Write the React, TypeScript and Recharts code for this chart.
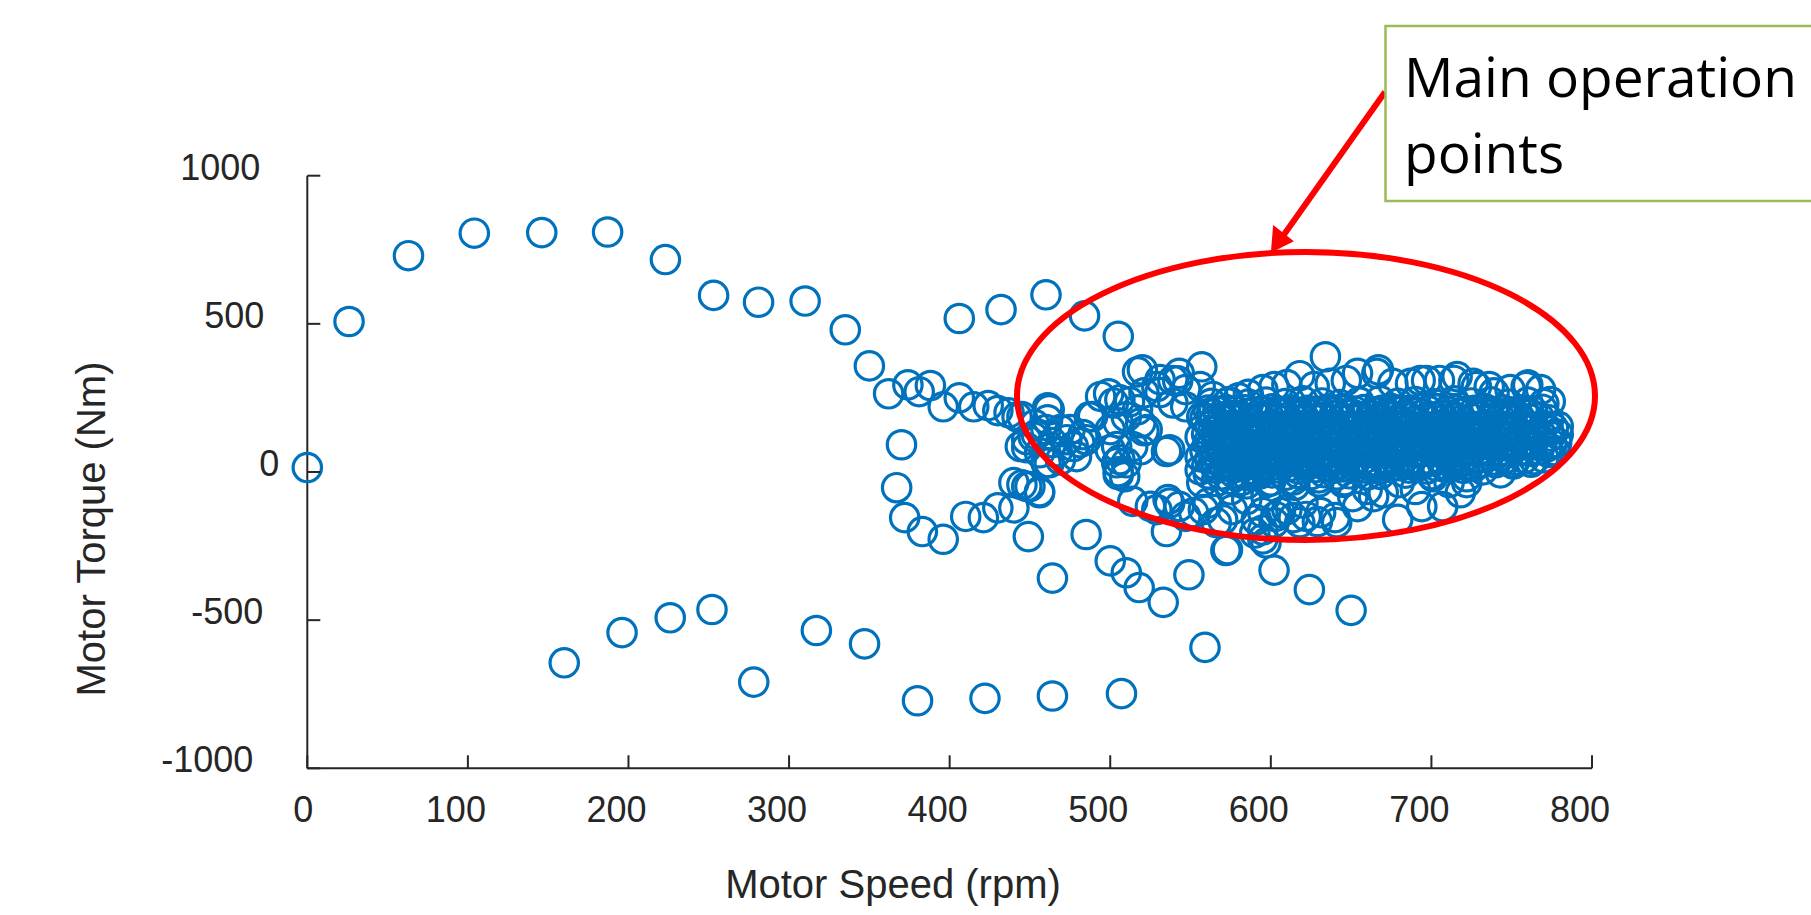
import React from 'react';
import { ScatterChart, Scatter, XAxis, YAxis } from 'recharts';

type P = [number, number];

const speedTicks = [0, 100, 200, 300, 400, 500, 600, 700, 800];
const torqueTicks = [-1000, -500, 0, 500, 1000];

const upperArc: P[] = [
  [0, 15], [26, 508], [63, 730], [104, 806], [146, 808], [187, 810], [223, 717], [253, 596],
  [281, 573], [310, 577], [335, 480], [350, 358], [362, 264], [374, 294], [381, 271], [388, 292],
  [396, 220], [406, 250], [415, 220], [424, 224], [430, 207], [437, 200], [445, 187], [461, 217], [489, 187],
];

const peakPoints: P[] = [
  [406, 518], [432, 548], [460, 598], [484, 527], [505, 458], [517, 338], [520, 345], [531, 312],
  [543, 333], [557, 355], [542, 308],
];

const loopPoints: P[] = [
  [370, 92], [367, -53], [372, -154], [383, -201], [396, -227], [410, -150], [421, -154], [430, -121],
  [440, -121], [449, -218], [445, -43], [450, -49], [456, -66], [485, -211], [464, -358], [500, -300],
  [510, -340], [518, -390], [533, -440], [549, -347], [559, -592], [572, -265], [590, -206], [595, -226],
  [602, -331], [624, -397], [650, -467],
];

const lowerArc: P[] = [
  [160, -644], [196, -542], [226, -492], [252, -464], [278, -709], [317, -535], [347, -580],
  [380, -772], [422, -764], [464, -756], [507, -748],
];

const innerCluster: P[] = [
  [448, 82], [454, 126], [460, 143], [464, 99], [469, 143], [473, 109], [477, 86], [481, 99],
  [483, 126], [479, 52], [467, 69], [456, 65], [448, 109], [485, 109], [461, 176], [453, 160],
  [475, 143], [462, 31], [442, 186], [462, 210], [452, 119], [444, 86], [440, -36], [448, -49],
  [456, -70], [487, 186], [469, 41], [460, 31],
];

const midPoints: P[] = [
  [499, 264], [506, 244], [512, 237], [517, 210], [531, 268], [494, 255], [502, 233], [521, 267],
  [529, 288], [539, 309], [547, 278], [556, 288], [564, 255], [573, 233], [547, 220], [539, 233],
  [505, 166], [519, 166], [510, 186], [500, 143], [523, 143], [500, 75], [504, 31], [505, -9],
  [506, 42], [504, 86], [510, 31], [514, 86], [519, 75], [535, 69], [509, -16], [505, 1],
  [514, -99], [525, -116], [536, -93], [543, -116], [552, -137], [561, -105], [570, -161], [535, -201],
  [537, -105], [529, -127], [547, -150], [558, -127], [566, -171], [576, -127], [585, -93], [573, -262],
  [591, -161], [597, -239], [521, 139], [537, 75],
];

const clusterTop: P[] = [
  [595, 278], [602, 288], [610, 295], [618, 325], [627, 288], [637, 299], [647, 309], [654, 333],
  [666, 333], [676, 299], [687, 299], [697, 309], [705, 309], [716, 322], [726, 299], [736, 288],
  [749, 278], [759, 288], [768, 278], [739, 267], [728, 288], [714, 309], [693, 309], [634, 389],
  [667, 345], [760, 294], [774, 238], [580, 250], [586, 262], [557, 186], [556, 118], [556, 51],
  [556, 7], [557, -36],
];

const clusterBottom: P[] = [
  [595, -137], [606, -137], [614, -154], [622, -150], [629, -167], [640, -154], [654, -117], [664, -83],
  [597, -83], [660, -59], [670, -70], [680, -36], [690, -59], [701, -16], [711, -36], [722, -16],
  [732, 7], [743, -3], [751, 31], [722, -36], [603, -150], [641, -171], [620, -105], [595, -196],
  [679, -160], [694, -117], [707, -117], [718, -70], [602, -171], [610, -127], [618, -171], [631, -137],
  [651, -83], [585, -40], [575, -25], [600, -30], [615, -45], [630, -20], [645, -35], [660, -10],
  [575, -60], [590, -10],
];

const rowLow2: P[] = [
  [566, -32], [582, -28], [598, -35], [614, -27], [630, -33], [646, -29],
];
const rowLow1: P[] = [
  [561, -6], [569, -10], [577, -4], [585, -12], [593, -7], [601, -3], [609, -11], [617, -5], [625, -9],
  [633, -2], [641, -10], [649, -6], [668, -8], [684, -4], [700, -9],
];
const rowA: P[] = [
  [560, 18], [566, 12], [571, 20], [577, 14], [583, 19], [588, 10], [594, 17], [600, 22], [605, 13],
  [611, 18], [617, 11], [622, 20], [628, 15], [634, 21], [639, 12], [645, 17], [651, 22], [657, 14],
  [663, 19], [668, 11], [674, 16], [680, 21], [686, 13], [691, 18], [697, 10], [703, 20], [709, 15],
  [714, 22], [720, 12], [727, 19],
];
const rowAB: P[] = [
  [564, 30], [575, 27], [586, 32], [597, 26], [608, 31], [619, 28], [630, 33], [641, 27], [652, 30],
  [663, 26], [674, 32], [685, 28], [696, 31], [707, 27], [718, 33], [729, 29], [740, 31], [751, 27],
  [762, 33],
];
const rowB: P[] = [
  [562, 44], [568, 39], [573, 47], [579, 41], [585, 45], [590, 38], [596, 43], [602, 49], [607, 40],
  [613, 46], [619, 37], [624, 44], [630, 41], [636, 48], [641, 39], [647, 45], [653, 42], [659, 47],
  [665, 38], [670, 44], [676, 49], [682, 40], [688, 45], [693, 37], [699, 43], [705, 48], [711, 41],
  [716, 46], [722, 38], [728, 44], [734, 49], [740, 40], [746, 45], [752, 39], [758, 46], [764, 42],
  [770, 48],
];
const rowC: P[] = [
  [559, 72], [565, 66], [570, 74], [576, 68], [582, 73], [587, 65], [593, 71], [599, 76], [604, 67],
  [610, 73], [616, 64], [621, 71], [627, 68], [633, 75], [638, 66], [644, 72], [650, 69], [656, 74],
  [662, 65], [667, 71], [673, 77], [679, 67], [685, 72], [690, 64], [696, 70], [702, 75], [708, 68],
  [713, 73], [719, 66], [725, 71], [731, 77], [737, 67], [743, 72], [749, 65], [755, 73], [761, 69],
  [767, 75], [773, 66], [777, 72],
];
const rowCD: P[] = [
  [563, 86], [574, 83], [585, 88], [596, 82], [607, 87], [618, 84], [629, 89], [640, 83], [651, 86],
  [662, 82], [673, 88], [684, 84], [695, 87], [706, 83], [717, 89], [728, 85], [739, 87], [750, 83],
  [761, 89], [772, 85],
];
const rowD: P[] = [
  [561, 99], [567, 94], [572, 101], [578, 95], [584, 100], [589, 92], [595, 98], [601, 103], [606, 94],
  [612, 100], [618, 91], [623, 98], [629, 95], [635, 102], [640, 93], [646, 99], [652, 96], [658, 101],
  [664, 92], [669, 98], [675, 104], [681, 94], [687, 99], [692, 91], [698, 97], [704, 102], [710, 95],
  [715, 100], [721, 93], [727, 98], [733, 104], [739, 94], [745, 99], [751, 92], [757, 100], [763, 96],
  [769, 102], [775, 93], [778, 99],
];
const rowE: P[] = [
  [560, 127], [566, 121], [571, 129], [577, 123], [583, 128], [588, 120], [594, 126], [600, 131], [605, 122],
  [611, 128], [617, 119], [622, 126], [628, 123], [634, 130], [639, 121], [645, 127], [651, 124], [657, 129],
  [663, 120], [668, 126], [674, 132], [680, 122], [686, 127], [691, 119], [697, 125], [703, 130], [709, 123],
  [714, 128], [720, 121], [726, 126], [732, 132], [738, 122], [744, 127], [750, 120], [756, 128], [762, 124],
  [768, 130], [774, 121], [779, 127],
];
const rowEF: P[] = [
  [564, 141], [575, 138], [586, 143], [597, 137], [608, 142], [619, 139], [630, 144], [641, 138], [652, 141],
  [663, 137], [674, 143], [685, 139], [696, 142], [707, 138], [718, 144], [729, 140], [740, 142], [751, 138],
  [762, 144], [773, 140],
];
const rowF: P[] = [
  [562, 154], [568, 149], [573, 156], [579, 150], [585, 155], [590, 147], [596, 153], [602, 158], [607, 149],
  [613, 155], [619, 146], [624, 153], [630, 150], [636, 157], [641, 148], [647, 154], [653, 151], [659, 156],
  [665, 147], [670, 153], [676, 159], [682, 149], [688, 154], [693, 146], [699, 152], [705, 157], [711, 150],
  [716, 155], [722, 148], [728, 153], [734, 159], [740, 149], [746, 154], [752, 147], [758, 155], [764, 151],
  [770, 157], [776, 148], [779, 154],
];
const rowG: P[] = [
  [559, 182], [565, 176], [570, 184], [576, 178], [582, 183], [587, 175], [593, 181], [599, 186], [604, 177],
  [610, 183], [616, 174], [621, 181], [627, 178], [633, 185], [638, 176], [644, 182], [650, 179], [656, 184],
  [662, 175], [667, 181], [673, 187], [679, 177], [685, 182], [690, 174], [696, 180], [702, 185], [708, 178],
  [713, 183], [719, 176], [725, 181], [731, 187], [737, 177], [743, 182], [749, 175], [755, 183], [761, 179],
  [767, 185], [773, 176],
];
const rowGH: P[] = [
  [563, 195], [574, 192], [585, 197], [596, 191], [607, 196], [618, 193], [629, 198], [640, 192], [651, 195],
  [662, 191], [673, 197], [684, 193], [695, 196], [706, 192], [717, 198], [728, 194], [739, 196], [750, 192],
  [761, 198],
];
const rowH: P[] = [
  [561, 209], [567, 204], [572, 211], [578, 205], [584, 210], [589, 202], [595, 208], [601, 213], [606, 204],
  [612, 210], [618, 201], [623, 208], [629, 205], [635, 212], [640, 203], [646, 209], [652, 206], [658, 211],
  [664, 202], [669, 208], [675, 214], [681, 204], [687, 209], [692, 201], [698, 207], [704, 212], [710, 205],
  [715, 210], [721, 203], [727, 208], [733, 214], [739, 204], [745, 209], [751, 202], [757, 210], [763, 206],
  [769, 212],
];
const rowI: P[] = [
  [563, 232], [574, 238], [586, 229], [597, 236], [609, 231], [620, 240], [632, 233], [643, 228], [655, 236],
  [668, 241], [679, 232], [690, 238], [702, 230], [714, 240], [725, 233], [737, 237], [748, 229], [760, 236],
  [770, 231],
];

const allPoints = [
  ...upperArc, ...peakPoints, ...loopPoints, ...lowerArc, ...innerCluster, ...midPoints,
  ...clusterTop, ...clusterBottom, ...rowLow2, ...rowLow1, ...rowA, ...rowAB, ...rowB, ...rowC,
  ...rowCD, ...rowD, ...rowE, ...rowEF, ...rowF, ...rowG, ...rowGH, ...rowH, ...rowI,
].map(([speed, torque]) => ({ speed, torque }));

const AXIS = '#262626';
const FONT = '"Liberation Sans", Arial, Helvetica, sans-serif';
const NOTE_FONT = '"Open Sans", "Noto Sans", sans-serif';

const yLabelGap: Record<string, number> = { '1000': 47, '500': 43, '0': 28, '-500': 44, '-1000': 54 };

const YTick = (props: any) => {
  const { x, y, payload } = props;
  const gap = yLabelGap[String(payload.value)] ?? 45;
  return (
    <g>
      <line x1={x} x2={x + 13} y1={y} y2={y} stroke={AXIS} strokeWidth={2} />
      <text x={x - gap} y={y + 4} textAnchor="end" fontFamily={FONT} fontSize={36} fill={AXIS}>
        {payload.value}
      </text>
    </g>
  );
};

const XTick = (props: any) => {
  const { x, y, payload } = props;
  const dx = payload.value === 0 ? -4 : -12;
  return (
    <g>
      <line x1={x} x2={x} y1={y} y2={y - 13} stroke={AXIS} strokeWidth={2} />
      <text x={x + dx} y={y + 53.5} textAnchor="middle" fontFamily={FONT} fontSize={36} fill={AXIS}>
        {payload.value}
      </text>
    </g>
  );
};

const Ring = (props: any) => {
  const { cx, cy } = props;
  if (cx == null || cy == null) return <g />;
  return <circle cx={cx} cy={cy} r={14.2} fill="none" stroke="#0072BD" strokeWidth={3.2} />;
};

export default function App() {
  return (
    <div style={{ position: 'absolute', left: 0, top: 0, width: 1811, height: 915, background: '#fff' }}>
      <ScatterChart
        width={1811}
        height={915}
        margin={{ top: 175.7, right: 219, bottom: 116.7, left: 247.3 }}
      >
        <XAxis
          type="number"
          dataKey="speed"
          domain={[0, 800]}
          ticks={speedTicks}
          interval={0}
          height={30}
          tickSize={0}
          tickMargin={0}
          tickLine={false}
          axisLine={{ stroke: AXIS, strokeWidth: 2 }}
          tick={<XTick />}
        />
        <YAxis
          type="number"
          dataKey="torque"
          domain={[-1000, 1000]}
          ticks={torqueTicks}
          interval={0}
          width={60}
          tickSize={0}
          tickMargin={0}
          tickLine={false}
          axisLine={{ stroke: AXIS, strokeWidth: 2 }}
          tick={<YTick />}
        />
        <Scatter data={allPoints} shape={<Ring />} isAnimationActive={false} />
      </ScatterChart>
      <svg
        width={1811}
        height={915}
        style={{ position: 'absolute', left: 0, top: 0, pointerEvents: 'none' }}
      >
        <text x={893} y={898} textAnchor="middle" fontFamily={FONT} fontSize={40} fill={AXIS}>
          Motor Speed (rpm)
        </text>
        <text
          x={105}
          y={529}
          textAnchor="middle"
          fontFamily={FONT}
          fontSize={40}
          fill={AXIS}
          transform="rotate(-90 105 529)"
        >
          Motor Torque (Nm)
        </text>
        <ellipse cx={1306} cy={396} rx={289} ry={144} fill="none" stroke="#FF0000" strokeWidth={6} />
        <line x1={1385} y1={92} x2={1283} y2={236} stroke="#FF0000" strokeWidth={6} />
        <polygon points="1272,251 1292,241 1274,227" fill="#FF0000" stroke="#FF0000" strokeWidth={2} />
        <rect x={1385.5} y={26} width={440} height={175} fill="#fff" stroke="#9BBB59" strokeWidth={2.5} />
        <text x={1404} y={97} fontFamily={NOTE_FONT} fontSize={55} fill="#000">
          Main operation
        </text>
        <text x={1404} y={173} fontFamily={NOTE_FONT} fontSize={55} fill="#000">
          points
        </text>
      </svg>
    </div>
  );
}
